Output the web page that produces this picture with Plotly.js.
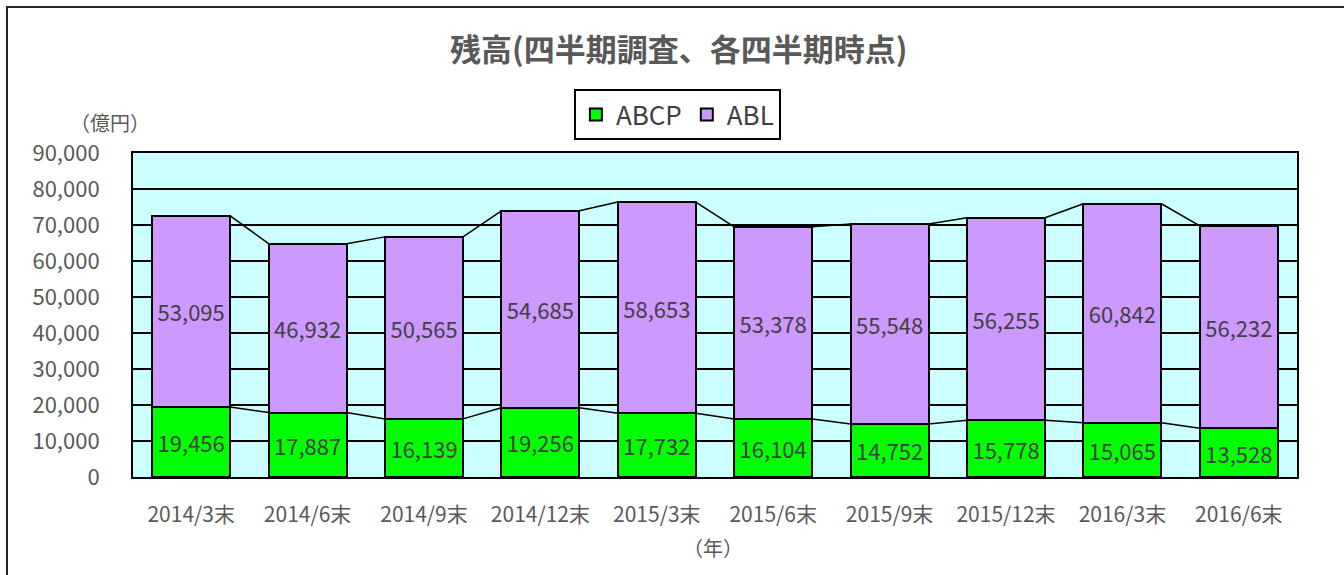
<!DOCTYPE html>
<html>
<head>
<meta charset="utf-8">
<script src="https://cdn.plot.ly/plotly-3.0.1.min.js"></script>
<style>
html,body{margin:0;padding:0;background:#fff;}
#wrap{position:absolute;left:0;top:0;width:1344px;height:575px;overflow:hidden;}
#frame{position:absolute;left:6px;top:6px;width:1400px;height:600px;border-top:2px solid #222;border-left:2px solid #222;pointer-events:none;}
#chart{position:absolute;left:0;top:0;width:1344px;height:575px;}
</style>
</head>
<body>
<div id="wrap">
<div id="chart"></div>
<div id="frame"></div>
</div>
<script>
const categories = ["2014/3末","2014/6末","2014/9末","2014/12末","2015/3末","2015/6末","2015/9末","2015/12末","2016/3末","2016/6末"];
const abcp = [19456,17887,16139,19256,17732,16104,14752,15778,15065,13528];
const abl  = [53095,46932,50565,54685,58653,53378,55548,56255,60842,56232];
const yTicks = [0,10000,20000,30000,40000,50000,60000,70000,80000,90000];

const font = '"Noto Sans CJK JP", "Noto Sans", sans-serif';
const barW = 0.67;
const xs = categories.map((c,i)=>i);
const totals = abcp.map((v,i)=>v+abl[i]);

function connector(vals){
  const x=[], y=[];
  for(let i=0;i<vals.length-1;i++){
    x.push(i+barW/2, i+1-barW/2, null);
    y.push(vals[i], vals[i+1], null);
  }
  return {x:x, y:y, type:'scatter', mode:'lines', line:{color:'#000', width:1.5}, showlegend:false, hoverinfo:'skip', cliponaxis:false};
}

const traces = [
  {x:xs, y:abcp, type:'bar', name:'ABCP', width:barW,
   marker:{color:'#00FF00', line:{color:'#000', width:2}},
   text:abcp.map(v=>v.toLocaleString('en-US')), textposition:'inside', insidetextanchor:'middle',
   textangle:0, constraintext:'none', textfont:{family:font, size:22, color:'#404040'}},
  {x:xs, y:abl, type:'bar', name:'ABL', width:barW,
   marker:{color:'#CC99FF', line:{color:'#000', width:2}},
   text:abl.map(v=>v.toLocaleString('en-US')), textposition:'inside', insidetextanchor:'middle',
   textangle:0, constraintext:'none', textfont:{family:font, size:22, color:'#404040'}},
  connector(abcp),
  connector(totals)
];

const layout = {
  width:1344, height:575,
  margin:{l:133, r:47, t:153, b:98},
  paper_bgcolor:'#fff', plot_bgcolor:'#CCFFFF',
  barmode:'stack',
  font:{family:font, color:'#595959'},
  title:{text:'<b>残高(四半期調査、各四半期時点)</b>', font:{family:font, size:31, color:'#595959'},
         xref:'container', x:0.505, xanchor:'center', yref:'container', y:1-50/575, yanchor:'middle'},
  xaxis:{range:[-0.5, categories.length-0.5], tickvals:xs, ticktext:categories,
         tickfont:{family:font, size:21, color:'#595959'}, ticks:'', ticklabelstandoff:18,
         showgrid:false, zeroline:false, showline:true, linecolor:'#000', linewidth:2, mirror:true, fixedrange:true},
  yaxis:{range:[0,90000], tickvals:yTicks, ticktext:yTicks.map(v=>v.toLocaleString('en-US')),
         tickfont:{family:font, size:22, color:'#595959'}, ticks:'', ticklabelstandoff:27,
         showgrid:true, gridcolor:'#000', gridwidth:1.5, zeroline:false,
         showline:true, linecolor:'#000', linewidth:2, mirror:true, fixedrange:true},
  legend:{orientation:'h', xref:'container', x:0.504, xanchor:'center', yref:'container', y:1-89/575, yanchor:'top',
          bordercolor:'#000', borderwidth:2, bgcolor:'#fff', font:{family:font, size:26, color:'#404040'},
          itemwidth:30, traceorder:'normal'},
  annotations:[
    {text:'（億円）', xref:'paper', yref:'paper', x:(110-133)/1164, y:(477-122)/324, xanchor:'center', yanchor:'middle',
     showarrow:false, font:{family:font, size:20, color:'#595959'}},
    {text:'（年）', xref:'paper', yref:'paper', x:(713-133)/1164, y:(477-547)/324, xanchor:'center', yanchor:'middle',
     showarrow:false, font:{family:font, size:20, color:'#595959'}}
  ],
  showlegend:true
};

Plotly.newPlot('chart', traces, layout, {displayModeBar:false, staticPlot:true});
</script>
</body>
</html>
